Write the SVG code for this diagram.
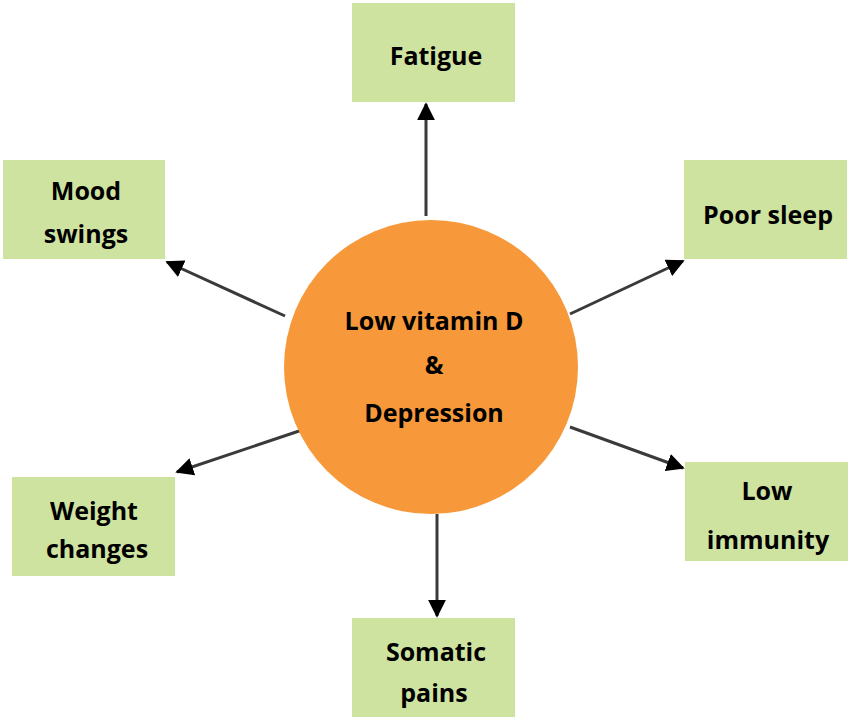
<svg xmlns="http://www.w3.org/2000/svg" width="850" height="722" viewBox="0 0 850 722">
<style>
.box{fill:#cfe3a1}
.t{font-family:"Open Sans","Liberation Sans",sans-serif;font-weight:bold;font-size:25px;fill:#000;text-anchor:middle}
.c{stroke:#3a3a3a;stroke-width:3;fill:none;marker-end:url(#ah)}
</style>
<defs><marker id="ah" viewBox="0 0 10 10" refX="9" refY="5" markerWidth="6" markerHeight="6" orient="auto" markerUnits="strokeWidth"><path d="M0,0L10,5L0,10z" fill="#000"/></marker></defs>
<rect width="850" height="722" fill="#fff"/>
<g id="connectors">
<line class="c" x1="426" y1="216" x2="426" y2="104"/>
<line class="c" x1="285" y1="316" x2="167" y2="262"/>
<line class="c" x1="570" y1="314" x2="683" y2="261"/>
<line class="c" x1="308" y1="428" x2="177" y2="472"/>
<line class="c" x1="570" y1="427" x2="683" y2="468"/>
<line class="c" x1="437" y1="514" x2="437" y2="616"/>
</g>
<g id="center"><circle cx="431" cy="367" r="147" fill="#f7993a"/>
<text class="t" x="434" y="330">Low vitamin D</text><text class="t" x="434" y="374">&amp;</text><text class="t" x="434" y="422">Depression</text></g>
<g id="fatigue"><rect class="box" x="352" y="3" width="163" height="99"/><text class="t" x="436" y="65">Fatigue</text></g>
<g id="mood"><rect class="box" x="3" y="160" width="162" height="99"/><text class="t" x="86" y="200">Mood</text><text class="t" x="86" y="243">swings</text></g>
<g id="sleep"><rect class="box" x="684" y="160" width="163" height="99"/><text class="t" x="768" y="224">Poor sleep</text></g>
<g id="weight"><rect class="box" x="12" y="477" width="163" height="99"/><text class="t" x="94" y="520">Weight</text><text class="t" x="97" y="558">changes</text></g>
<g id="immunity"><rect class="box" x="685" y="462" width="163" height="99"/><text class="t" x="767" y="500">Low</text><text class="t" x="768" y="549">immunity</text></g>
<g id="somatic"><rect class="box" x="352" y="618" width="163" height="99"/><text class="t" x="436" y="661">Somatic</text><text class="t" x="434" y="702">pains</text></g>
</svg>
